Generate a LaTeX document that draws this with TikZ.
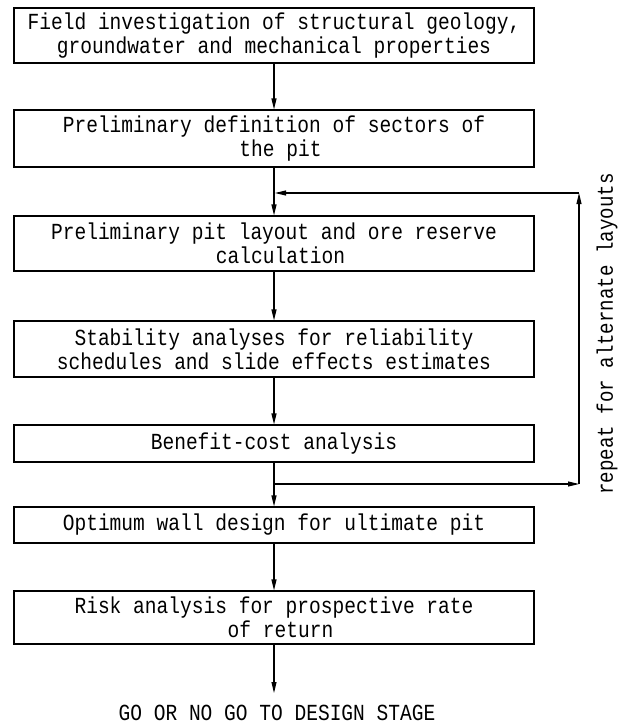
\documentclass[tikz,border=0pt]{standalone}
\usepackage{fontspec}
\usetikzlibrary{arrows.meta}
\newfontfamily\typewriter{Liberation Mono}[FakeStretch=0.85]
% typed second lines sit slightly right of true centre
\newcommand{\typeindent}{\hspace*{13pt}}
\begin{document}
\begin{tikzpicture}[x=1pt,y=-1pt,
  every node/.style={font=\typewriter\fontsize{23}{24}\selectfont},
  stage/.style={draw, line width=1.1pt, inner sep=0pt, align=center,
    minimum width=520pt},
  flow/.style={line width=1.1pt, -{Triangle[length=11pt,width=5pt]}},
  link/.style={line width=1.1pt}]
\useasboundingbox (0,0) rectangle (622,723);

% process stages, top to bottom
\node[stage, minimum height=55pt] (s1) at (274,35.5)
  {Field investigation of structural geology,\\groundwater and mechanical properties};
\node[stage, minimum height=57pt] (s2) at (274,138.5)
  {Preliminary definition of sectors of\\\typeindent the pit};
\node[stage, minimum height=55pt] (s3) at (274,243.5)
  {Preliminary pit layout and ore reserve\\\typeindent calculation};
\node[stage, minimum height=56pt] (s4) at (274,349)
  {Stability analyses for reliability\\schedules and slide effects estimates};
\node[stage, minimum height=37pt] (s5) at (274,443.5)
  {Benefit-cost analysis};
\node[stage, minimum height=36pt] (s6) at (274,525)
  {Optimum wall design for ultimate pit};
\node[stage, minimum height=53pt] (s7) at (274,617.5)
  {Risk analysis for prospective rate\\\typeindent of return};
\node[anchor=base, inner sep=0pt, text depth=0pt] (go) at (277,720)
  {GO OR NO GO TO DESIGN STAGE};

% junction points of the iteration loop and the final arrow end
\coordinate (jin) at (274,193);
\coordinate (jout) at (274,484);
\coordinate (cb) at (579,484);
\coordinate (ct) at (579,193);
\coordinate (goin) at (274,693);

% main flow
\draw[flow] (s1.south) -- (s2.north);
\draw[link] (s2.south) -- (jin);
\draw[flow] (jin) -- (s3.north);
\draw[flow] (s3.south) -- (s4.north);
\draw[flow] (s4.south) -- (s5.north);
\draw[link] (s5.south) -- (jout);
\draw[flow] (jout) -- (s6.north);
\draw[flow] (s6.south) -- (s7.north);
\draw[flow] (s7.south) -- (goin);

% iteration loop
\draw[flow] (jout) -- (cb);
\draw[flow] (cb) -- (ct);
\draw[flow] (ct) -- ([xshift=1pt]jin);

\node[rotate=90] (rep) at (607,334)
  {\fontsize{22.5}{24}\selectfont repeat for alternate layouts};
\end{tikzpicture}
\end{document}
